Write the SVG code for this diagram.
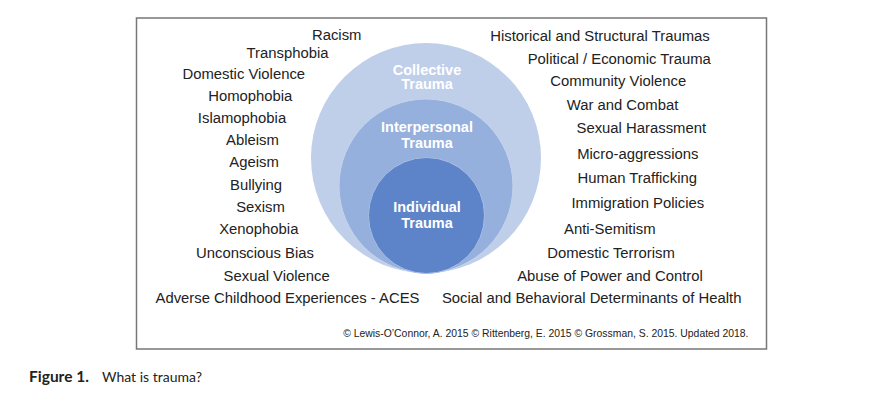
<svg xmlns="http://www.w3.org/2000/svg" width="882" height="416" viewBox="0 0 882 416">
<style>
.t{font-family:"Liberation Sans",Arial,sans-serif;font-size:14.85px;fill:#222;text-anchor:middle}
.c{font-family:"Liberation Sans",Arial,sans-serif;font-size:14.5px;font-weight:bold;fill:#fff;text-anchor:middle}
.cr{font-family:"Liberation Sans",Arial,sans-serif;font-size:10.4px;fill:#222;text-anchor:end}
.cap{font-family:Lato,"Open Sans",sans-serif;fill:#222}
</style>
<rect width="882" height="416" fill="#fff"/>
<rect x="136.5" y="18" width="630" height="331" fill="#fff" stroke="#777" stroke-width="1.5"/>
<g id="collective">
<circle cx="426" cy="158" r="115" fill="#bfcfea"/>
<text class="c" x="427" y="75">Collective</text>
<text class="c" x="427" y="88.5">Trauma</text>
</g>
<g id="interpersonal">
<circle cx="426" cy="186" r="87" fill="#95b0dc" stroke="#c6d4ec" stroke-width="1"/>
<text class="c" x="427" y="132">Interpersonal</text>
<text class="c" x="427" y="148">Trauma</text>
</g>
<g id="individual">
<circle cx="426.5" cy="215.5" r="58" fill="#5d84c9" stroke="#a9bfe4" stroke-width="1"/>
<text class="c" x="427" y="212">Individual</text>
<text class="c" x="427" y="228">Trauma</text>
</g>
<g id="left-list">
<text class="t" x="336.7" y="40">Racism</text>
<text class="t" x="287.5" y="58">Transphobia</text>
<text class="t" x="243.8" y="79">Domestic Violence</text>
<text class="t" x="250.3" y="101">Homophobia</text>
<text class="t" x="242" y="123">Islamophobia</text>
<text class="t" x="252.5" y="145">Ableism</text>
<text class="t" x="254" y="167">Ageism</text>
<text class="t" x="256" y="190">Bullying</text>
<text class="t" x="260.5" y="212">Sexism</text>
<text class="t" x="258.8" y="234">Xenophobia</text>
<text class="t" x="255" y="258">Unconscious Bias</text>
<text class="t" x="276.7" y="281">Sexual Violence</text>
<text class="t" x="287.5" y="303">Adverse Childhood Experiences - ACES</text>
</g>
<g id="right-list">
<text class="t" x="600" y="41">Historical and Structural Traumas</text>
<text class="t" x="619.3" y="64">Political / Economic Trauma</text>
<text class="t" x="618.3" y="86">Community Violence</text>
<text class="t" x="622.5" y="110">War and Combat</text>
<text class="t" x="641.3" y="133">Sexual Harassment</text>
<text class="t" x="637.8" y="159">Micro-aggressions</text>
<text class="t" x="637.3" y="183">Human Trafficking</text>
<text class="t" x="637.8" y="208">Immigration Policies</text>
<text class="t" x="609.8" y="234">Anti-Semitism</text>
<text class="t" x="611" y="258">Domestic Terrorism</text>
<text class="t" x="610" y="281">Abuse of Power and Control</text>
<text class="t" x="591.7" y="303">Social and Behavioral Determinants of Health</text>
</g>
<text class="cr" x="748.5" y="337">© Lewis-O’Connor, A. 2015 © Rittenberg, E. 2015 © Grossman, S. 2015. Updated 2018.</text>
<text class="cap" x="29" y="382" font-size="15.5" font-weight="bold">Figure 1.</text>
<text class="cap" x="102" y="382" font-size="14">What is trauma?</text>
</svg>
